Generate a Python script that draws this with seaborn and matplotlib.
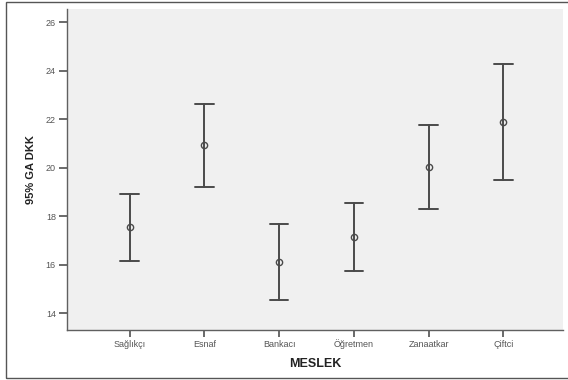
import numpy as np
import pandas as pd
import seaborn as sns
import matplotlib.pyplot as plt
from matplotlib.patches import Rectangle

meslek = ['Sağlıkçı', 'Esnaf', 'Bankacı', 'Öğretmen', 'Zanaatkar', 'Çiftci']
ortalama = [17.54, 20.91, 16.12, 17.15, 20.02, 21.87]
alt_sinir = [16.13, 19.19, 14.52, 15.73, 18.31, 19.49]
ust_sinir = [18.92, 22.61, 17.69, 18.53, 21.75, 24.27]
y_ticks = [14, 16, 18, 20, 22, 24, 26]

# long table: lower bound, mean, upper bound for each group
rows = []
for m, lo, me, hi in zip(meslek, alt_sinir, ortalama, ust_sinir):
    for v in (lo, me, hi):
        rows.append({'MESLEK': m, 'DKK': v})
df = pd.DataFrame(rows)

sns.set_style('white')
plt.rcParams['font.family'] = ['Liberation Sans', 'DejaVu Sans']

fig = plt.figure(figsize=(5.68, 3.8), dpi=100)
ax = fig.add_axes([67 / 568, 1 - 330 / 380, (563 - 67) / 568, (330 - 9) / 380])
ax.set_facecolor('#f0f0f0')

sns.pointplot(data=df, x='MESLEK', y='DKK', order=meslek,
              estimator=np.median, errorbar=lambda x: (x.min(), x.max()),
              linestyle='none', capsize=0.25, color='#4a4a4a',
              marker='o', markersize=4.5, markerfacecolor='none',
              markeredgewidth=1.0, err_kws={'linewidth': 1.4}, ax=ax)

ax.set_xlim(-0.84, 5.8)
ax.set_ylim(13.3, 26.54)
ax.set_yticks(y_ticks)
ax.set_yticklabels([str(t) for t in y_ticks])

for s in ['top', 'right']:
    ax.spines[s].set_visible(False)
for s in ['left', 'bottom']:
    ax.spines[s].set_color('#606060')
    ax.spines[s].set_linewidth(1.0)

ax.tick_params(axis='both', direction='out', length=6, width=1.2,
               bottom=True, left=True,
               color='#505050', labelsize=6.5, labelcolor='#555555', pad=2)
ax.tick_params(axis='x', length=5, pad=7)
for lab in ax.get_xticklabels():
    lab.set_verticalalignment('baseline')

ax.set_xlabel('MESLEK', fontsize=9, fontweight='bold', color='#222222')
ax.xaxis.set_label_coords(0.5, -0.105)
ax.xaxis.label.set_verticalalignment('center')
ax.set_ylabel('95% GA DKK', fontsize=8, fontweight='bold', color='#222222', labelpad=7)

fig.patches.append(Rectangle((6 / 568, 2 / 380), 1.2, 1 - 4 / 380,
                             transform=fig.transFigure, fill=False,
                             edgecolor='#555555', linewidth=1.0))

fig.savefig('out.png', dpi=100)
